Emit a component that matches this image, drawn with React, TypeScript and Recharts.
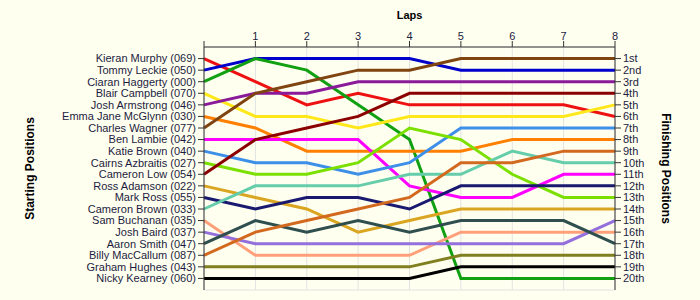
import { LineChart, Line, XAxis, YAxis, CartesianGrid } from 'recharts';

// lap numbers along the top axis
const laps = [0, 1, 2, 3, 4, 5, 6, 7, 8];

// drivers in starting order
const drivers = [
  'Kieran Murphy (069)',
  'Tommy Leckie (050)',
  'Ciaran Haggerty (000)',
  'Blair Campbell (070)',
  'Josh Armstrong (046)',
  'Emma Jane McGlynn (030)',
  'Charles Wagner (077)',
  'Ben Lambie (042)',
  'Katie Brown (040)',
  'Cairns Azbraitis (027)',
  'Cameron Low (054)',
  'Ross Adamson (022)',
  'Mark Ross (055)',
  'Cameron Brown (033)',
  'Sam Buchanan (035)',
  'Josh Baird (037)',
  'Aaron Smith (047)',
  'Billy MacCallum (087)',
  'Graham Hughes (043)',
  'Nicky Kearney (060)',
];

const colors = [
  '#ee1111', '#0000cc', '#11a011', '#ffe81a', '#8a1a9a',
  '#ff8000', '#7f4410', '#ff00ff', '#3d8fe8', '#7be000',
  '#8b0000', '#daa520', '#191970', '#66cdaa', '#ffa07a',
  '#9370db', '#2f4f4f', '#d2691e', '#808020', '#000000',
];

// position of each driver at the end of each lap (lap 0 = grid)
const positions = [
  [1, 3, 5, 4, 5, 5, 5, 5, 6],
  [2, 1, 1, 1, 1, 2, 2, 2, 2],
  [3, 1, 2, 5, 8, 20, 20, 20, 20],
  [4, 6, 6, 7, 6, 6, 6, 6, 5],
  [5, 4, 4, 3, 3, 3, 3, 3, 3],
  [6, 7, 9, 9, 9, 9, 8, 8, 8],
  [7, 4, 3, 2, 2, 1, 1, 1, 1],
  [8, 8, 8, 8, 12, 13, 13, 11, 11],
  [9, 10, 10, 11, 10, 7, 7, 7, 7],
  [10, 11, 11, 10, 7, 8, 11, 13, 13],
  [11, 8, 7, 6, 4, 4, 4, 4, 4],
  [12, 13, 14, 16, 15, 14, 14, 14, 14],
  [13, 14, 13, 13, 14, 12, 12, 12, 12],
  [14, 12, 12, 12, 11, 11, 9, 10, 10],
  [15, 18, 18, 18, 18, 16, 16, 16, 16],
  [16, 17, 17, 17, 17, 17, 17, 17, 15],
  [17, 15, 16, 15, 16, 15, 15, 15, 17],
  [18, 16, 15, 14, 13, 10, 10, 9, 9],
  [19, 19, 19, 19, 19, 18, 18, 18, 18],
  [20, 20, 20, 20, 20, 19, 19, 19, 19],
];

const rowTicks = [1, 2, 3, 4, 5, 6, 7, 8, 9, 10, 11, 12, 13, 14, 15, 16, 17, 18, 19, 20];
const finishLabels = [
  '1st', '2nd', '3rd', '4th', '5th', '6th', '7th', '8th', '9th', '10th',
  '11th', '12th', '13th', '14th', '15th', '16th', '17th', '18th', '19th', '20th',
];
// horizontal grid sits between the rows
const gridRows = [0.5, 1.5, 2.5, 3.5, 4.5, 5.5, 6.5, 7.5, 8.5, 9.5, 10.5, 11.5, 12.5, 13.5, 14.5, 15.5, 16.5, 17.5, 18.5, 19.5, 20.5];

const data = laps.map((lap, i) => {
  const row: Record<string, number> = { lap };
  drivers.forEach((_, j) => {
    row['d' + j] = positions[j][i];
  });
  return row;
});

const axisColor = '#333333';
const textColor = '#1c1c40';

export default function App() {
  return (
    <div style={{ position: 'absolute', left: 0, top: 0, width: 700, height: 300, background: '#fffff0', fontFamily: '"Liberation Sans", Arial, sans-serif' }}>
      <LineChart width={700} height={300} data={data} margin={{ top: 0, right: 0, left: 0, bottom: 10 }}>
        <CartesianGrid stroke="#e2e2e2" yAxisId="grid" />
        <XAxis
          dataKey="lap"
          type="number"
          orientation="top"
          domain={[0, 8]}
          ticks={laps}
          interval={0}
          height={47}
          tickFormatter={(v) => (v === 0 ? '' : String(v))}
          tick={{ fontSize: 11, fill: textColor }}
          tickSize={6}
          tickMargin={1}
          tickLine={{ stroke: axisColor }}
          axisLine={{ stroke: axisColor }}
          label={{ value: 'Laps', position: 'insideTop', offset: 11, style: { fontSize: 11, fontWeight: 'bold', fill: '#000' } }}
        />
        <YAxis
          yAxisId="start"
          type="number"
          domain={[0, 21]}
          reversed
          ticks={rowTicks}
          interval={0}
          width={204}
          tickFormatter={(v) => drivers[v - 1] ?? ''}
          tick={{ fontSize: 11, fill: textColor }}
          tickSize={6}
          tickMargin={2}
          tickLine={{ stroke: axisColor }}
          axisLine={{ stroke: axisColor }}
          label={{ value: 'Starting Positions', angle: -90, position: 'insideLeft', offset: 30, style: { textAnchor: 'middle', fontSize: 12, fontWeight: 'bold', fill: '#000' } }}
        />
        <YAxis yAxisId="grid" hide width={0} type="number" domain={[0, 21]} reversed ticks={gridRows} interval={0} />
        <YAxis
          yAxisId="finish"
          orientation="right"
          type="number"
          domain={[0, 21]}
          reversed
          ticks={rowTicks}
          interval={0}
          width={85}
          tickFormatter={(v) => finishLabels[v - 1] ?? ''}
          tick={{ fontSize: 11, fill: textColor }}
          tickSize={6}
          tickMargin={2}
          tickLine={{ stroke: axisColor }}
          axisLine={{ stroke: axisColor }}
          label={{ value: 'Finishing Positions', angle: 90, position: 'insideRight', offset: 34, style: { textAnchor: 'middle', fontSize: 12, fontWeight: 'bold', fill: '#000' } }}
        />
        {/* keeps the finishing axis tied to the data */}
        <Line yAxisId="finish" dataKey="d0" stroke="none" dot={false} legendType="none" isAnimationActive={false} />
        {drivers.map((name, j) => (
          <Line
            key={name}
            yAxisId="start"
            type="linear"
            dataKey={'d' + j}
            name={name}
            stroke={colors[j]}
            strokeWidth={3}
            dot={false}
            isAnimationActive={false}
          />
        ))}
      </LineChart>
    </div>
  );
}
